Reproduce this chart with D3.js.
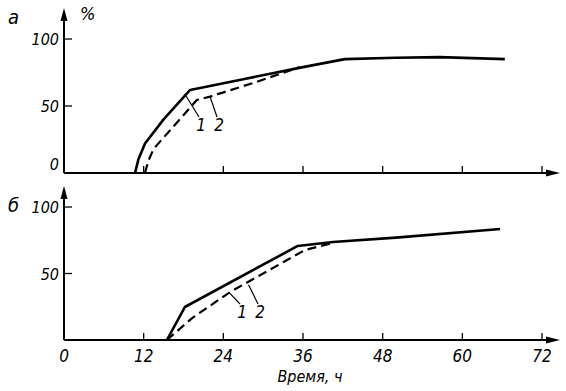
<!DOCTYPE html>
<html><head><meta charset="utf-8">
<script src="https://cdn.jsdelivr.net/npm/d3@7"></script>
<style>
body{margin:0;background:#fff;}
text{font-family:"DejaVu Sans Condensed","Liberation Sans Narrow",sans-serif;font-stretch:condensed;font-style:italic;fill:#000;}
</style></head><body>
<svg id="c" width="566" height="391"></svg>
<script>
// Data (time in h, value in %)
const xTicks = [0, 12, 24, 36, 48, 60, 72];
const yTicks = [0, 50, 100];
const topCurve1 = [[10.7,0],[11.2,10],[12.2,22],[15,40],[19,62],[27,70],[36,79],[42.3,85],[50,86],[56.6,86.5],[66.4,85]];
const topCurve2 = [[12.2,0],[12.7,9],[13.5,18],[20,54.5],[22,57],[29,68],[35.5,79]];
const botCurve1 = [[15.5,0],[18.2,24.8],[35.2,70.7],[40.5,73.7],[50,77],[65.7,83.5]];
const botCurve2 = [[15.5,0],[19.3,16.5],[25,36],[36.3,67.7],[40.5,73]];
const xTitle = "Время, ч";

const svg = d3.select("#c");
const x = d3.scaleLinear().domain([0,72]).range([64,542]);

function panel(opts){
  const y = d3.scaleLinear().domain([0,100]).range([opts.y0, opts.y100]);
  const g = svg.append("g");
  g.append("line").attr("x1",64).attr("x2",64).attr("y1",opts.y0).attr("y2",opts.yTop).attr("stroke","#000").attr("stroke-width",2);
  g.append("path").attr("d",`M64,${opts.yTop-4} L60.5,${opts.yTop+9} L67.5,${opts.yTop+9}Z`).attr("fill","#000");
  g.append("line").attr("x1",64).attr("x2",556).attr("y1",opts.y0).attr("y2",opts.y0).attr("stroke","#000").attr("stroke-width",2);
  g.append("path").attr("d",`M560,${opts.y0} L546,${opts.y0-3.5} L546,${opts.y0+3.5}Z`).attr("fill","#000");
  yTicks.filter(d=>d>0).forEach(d=>{
    g.append("line").attr("x1",64).attr("x2",72).attr("y1",y(d)).attr("y2",y(d)).attr("stroke","#000").attr("stroke-width",1.3);
  });
  yTicks.forEach(d=>{
    if(d===0 && !opts.zeroY) return;
    g.append("text").attr("x",59).attr("y",y(d)+(d===0? -3 : 6)).attr("text-anchor","end").attr("font-size",16).text(d);
  });
  xTicks.filter(d=>d>0).forEach(d=>{
    g.append("line").attr("x1",x(d)).attr("x2",x(d)).attr("y1",opts.y0).attr("y2",opts.y0-7).attr("stroke","#000").attr("stroke-width",1.3);
  });
  if(opts.xLabels){
    xTicks.forEach(d=>{
      g.append("text").attr("x",x(d)).attr("y",opts.y0+22).attr("text-anchor","middle").attr("font-size",17).text(d);
    });
  }
  const line = d3.line().x(d=>x(d[0])).y(d=>y(d[1])).curve(d3.curveLinear);
  g.append("path").attr("d",line(opts.c1)).attr("fill","none").attr("stroke","#000").attr("stroke-width",2.6).attr("stroke-linejoin","round");
  g.append("path").attr("d",line(opts.c2)).attr("fill","none").attr("stroke","#000").attr("stroke-width",2.2).attr("stroke-dasharray","9,5");
  opts.labels.forEach(l=>{
    g.append("line").attr("x1",x(l.from[0])).attr("y1",y(l.from[1])).attr("x2",l.lx-2).attr("y2",l.ly-14).attr("stroke","#000").attr("stroke-width",1.2);
    g.append("text").attr("x",l.lx).attr("y",l.ly).attr("text-anchor","middle").attr("font-size",17).text(l.t);
  });
  g.append("text").attr("x",opts.letterX).attr("y",opts.letterY).attr("font-size",20).text(opts.letter);
  return y;
}

panel({y0:173,y100:39,yTop:12,c1:topCurve1,c2:topCurve2,zeroY:true,xLabels:false,
  labels:[{t:"1",from:[18.2,59],lx:201,ly:131},{t:"2",from:[22,57],lx:219,ly:131}],
  letter:"а",letterX:8,letterY:24});
panel({y0:340,y100:207,yTop:190,c1:botCurve1,c2:botCurve2,zeroY:false,xLabels:true,
  labels:[{t:"1",from:[25,35],lx:242,ly:318},{t:"2",from:[27.8,41.5],lx:260,ly:318}],
  letter:"б",letterX:8,letterY:212});
svg.append("text").attr("x",80).attr("y",20).attr("font-size",18).text("%");
svg.append("text").attr("x",310).attr("y",382).attr("text-anchor","middle").attr("font-size",16).text(xTitle);
</script>
</body></html>
